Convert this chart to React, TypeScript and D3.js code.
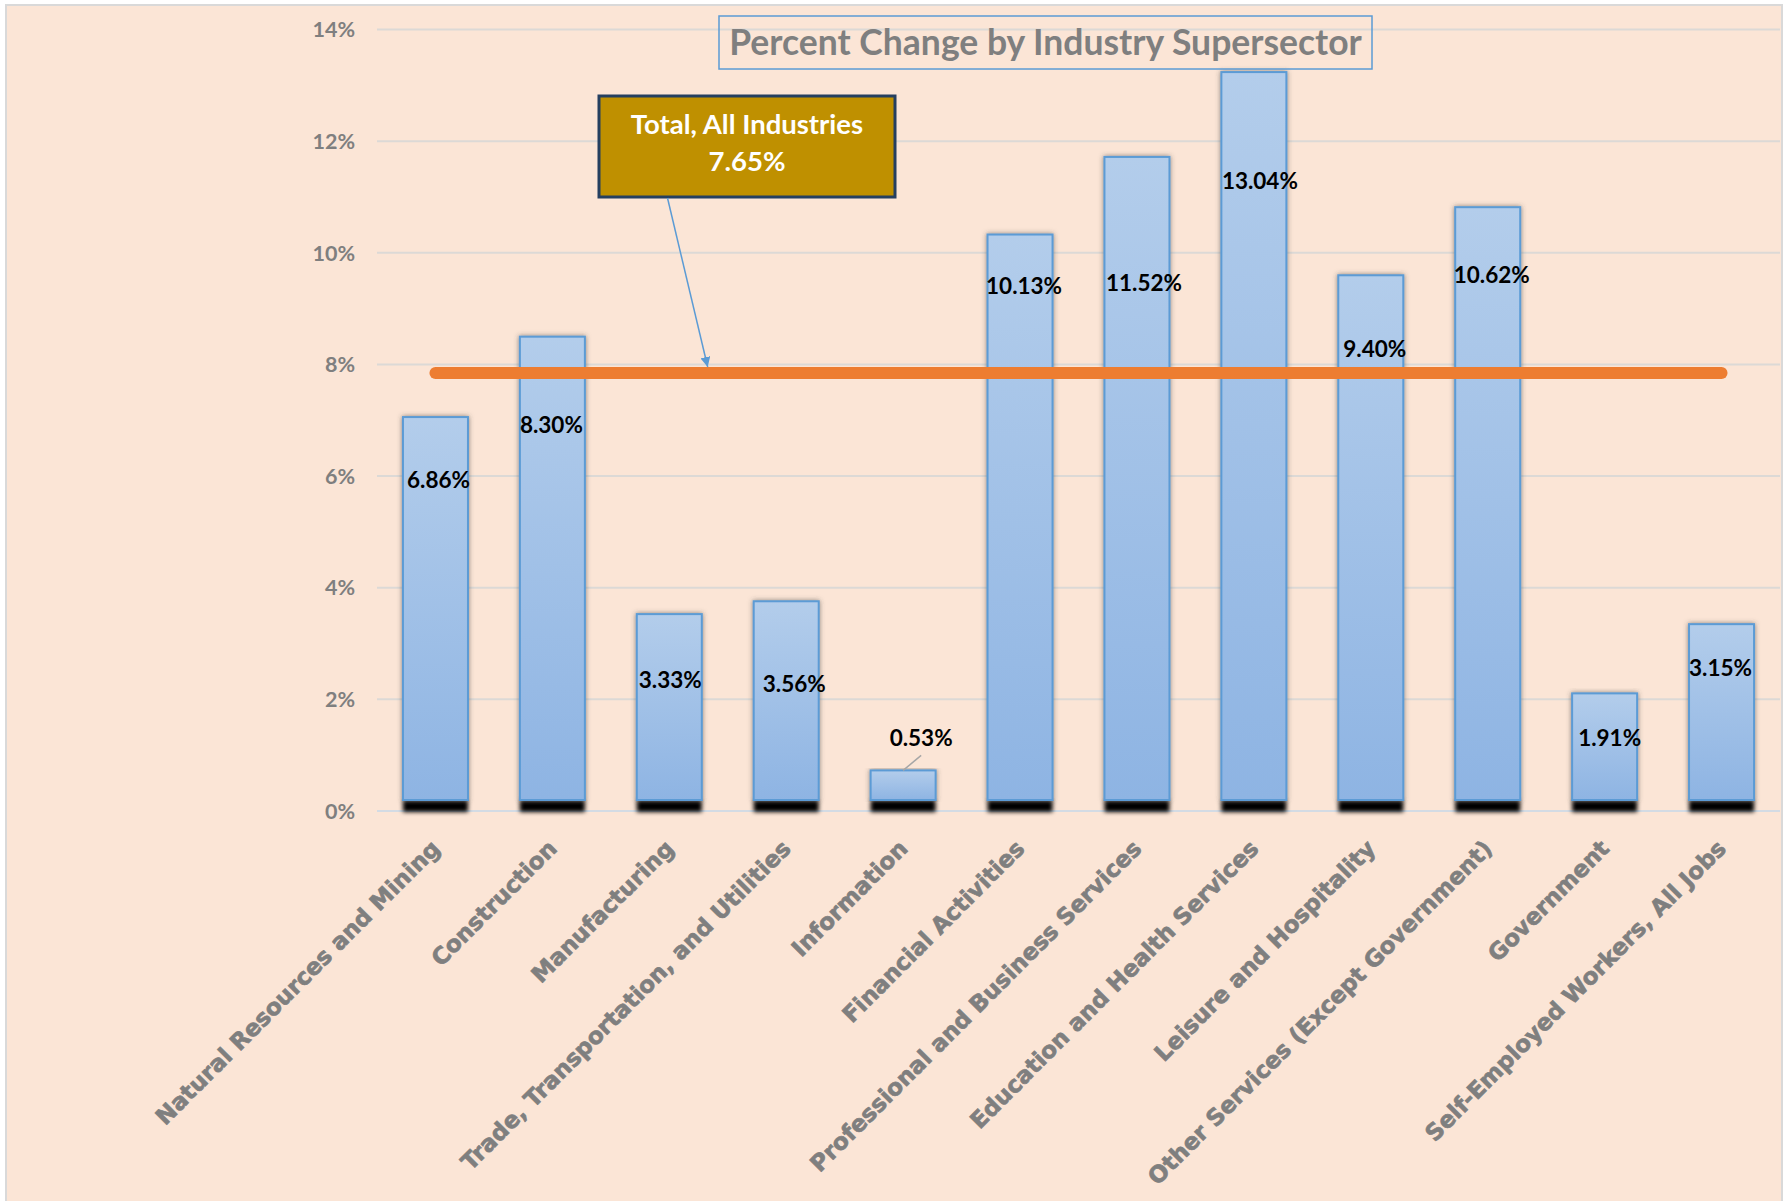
import React from 'react'
import * as d3 from 'd3'

// industry supersectors, left to right
const categories = [
  'Natural Resources and Mining',
  'Construction',
  'Manufacturing',
  'Trade, Transportation, and Utilities',
  'Information',
  'Financial Activities',
  'Professional and Business Services',
  'Education and Health Services',
  'Leisure and Hospitality',
  'Other Services (Except Government)',
  'Government',
  'Self-Employed Workers, All Jobs',
]
const pctChange = [6.86, 8.30, 3.33, 3.56, 0.53, 10.13, 11.52, 13.04, 9.40, 10.62, 1.91, 3.15]
const totalAllIndustries = 7.65
const yTicks = [0, 2, 4, 6, 8, 10, 12, 14]
const chartTitle = 'Percent Change by Industry Supersector'
const calloutLines = ['Total, All Industries', '7.65%']

// hand-placed label nudges (px) relative to bar top, like the original
const labelNudge: [number, number][] = [
  [3, 63], [-1, 88], [1, 66], [8, 83], [18, -33], [4, 51],
  [7, 126], [6, 109], [4, 74], [4, 68], [5, 45], [-1, 44],
]

const W = 1784
const H = 1201
const depth = 11 // 3d floor offset of the excel bars

const gray = '#7f7f7f'
const blue = '#5b9bd5'
const fontNum = 'Lato, "Open Sans", sans-serif'

export default function App() {
  const x = d3.scaleBand<string>()
    .domain(categories)
    .range([377, 1780])
    .paddingInner(0.444)
    .paddingOuter(0.222)
  const y = d3.scaleLinear().domain([0, 14]).range([811, 29.5])
  const bw = x.bandwidth()
  const cx = (c: string) => (x(c) ?? 0) + bw / 2

  const line = d3.line<string>()
    .x(c => cx(c))
    .y(() => y(totalAllIndustries) - depth)

  const ticks = y.ticks(7).filter(t => yTicks.includes(t))

  const infoIdx = 4
  const infoX = cx(categories[infoIdx])
  const infoTop = y(pctChange[infoIdx]) - depth

  return (
    <svg width={W} height={H} style={{ display: 'block', position: 'absolute', left: 0, top: 0 }}>
      <style>{'body{margin:0}'}</style>
      <defs>
        <linearGradient id="barFill" x1="0" y1="0" x2="0" y2="1">
          <stop offset="0%" stopColor="#b3cdeb" />
          <stop offset="100%" stopColor="#8eb4e3" />
        </linearGradient>
        <filter id="sideShadow" x="-20%" y="-5%" width="140%" height="110%">
          <feDropShadow dx="0" dy="0" stdDeviation="2.5" floodColor="#404040" floodOpacity="0.6" />
        </filter>
        <filter id="floorBlur" x="-20%" y="-60%" width="140%" height="220%">
          <feGaussianBlur stdDeviation="2.2" />
        </filter>
        <marker id="arrowHead" viewBox="0 0 10 10" refX="10" refY="5" markerWidth="10" markerHeight="10" markerUnits="userSpaceOnUse" orient="auto">
          <path d="M0,0 L10,5 L0,10 z" fill={blue} />
        </marker>
      </defs>

      <rect x={0} y={0} width={W} height={H} fill="#ffffff" />
      <rect x={6} y={5} width={1776} height={1200} fill="#fbe5d6" stroke="#d9d9d9" strokeWidth={2} />

      {/* gridlines */}
      {ticks.map(t => (
        <line key={'g' + t} x1={377} x2={1780} y1={y(t)} y2={y(t)}
          stroke={t === 0 ? '#d3dbe4' : '#dcd9d6'} strokeWidth={2} />
      ))}

      {/* y labels */}
      {ticks.map(t => (
        <text key={'yl' + t} x={355} y={y(t)} dy="0.36em" textAnchor="end"
          fontFamily={fontNum} fontWeight={700} fontSize={21.5} fill={gray}>
          {t + '%'}
        </text>
      ))}

      {/* floor shadows */}
      {categories.map(c => (
        <rect key={'f' + c} x={(x(c) ?? 0)} y={y(0) - depth} width={bw} height={depth + 1}
          fill="#000" filter="url(#floorBlur)" />
      ))}

      {/* bars */}
      {categories.map((c, i) => (
        <rect key={'b' + c} x={x(c)} y={y(pctChange[i]) - depth} width={bw}
          height={y(0) - y(pctChange[i])} fill="url(#barFill)" stroke={blue} strokeWidth={2}
          filter="url(#sideShadow)" />
      ))}

      {/* total, all industries */}
      <path d={line(categories) ?? ''} fill="none" stroke="#ed7d31" strokeWidth={12} strokeLinecap="round" />

      {/* data labels */}
      {categories.map((c, i) => (
        <text key={'dl' + c} x={cx(c) + labelNudge[i][0]} y={y(pctChange[i]) - depth + labelNudge[i][1]}
          dy="0.36em" textAnchor="middle" fontFamily={fontNum} fontWeight={700} fontSize={22.5} fill="#000">
          {pctChange[i].toFixed(2) + '%'}
        </text>
      ))}
      <line x1={infoX + labelNudge[infoIdx][0]} y1={infoTop + labelNudge[infoIdx][1] + 18}
        x2={infoX} y2={infoTop} stroke="#a6a6a6" strokeWidth={1.5} />

      {/* category labels */}
      {categories.map(c => (
        <text key={'xl' + c} transform={`translate(${cx(c) + 6},${y(0) + 39}) rotate(-45)`}
          textAnchor="end" fontFamily='"DejaVu Sans", sans-serif' fontWeight={700} fontSize={23}
          fill={gray} stroke={gray} strokeWidth={0.7}>
          {c}
        </text>
      ))}

      {/* title */}
      <rect x={719} y={16} width={653} height={53} fill="none" stroke={blue} strokeWidth={1.5} />
      <text x={1045.5} y={55} textAnchor="middle" fontFamily={fontNum} fontWeight={700} fontSize={35.5} fill={gray}>
        {chartTitle}
      </text>

      {/* callout */}
      <rect x={599} y={96} width={296} height={101} fill="#bf9000" stroke="#243f60" strokeWidth={3} />
      {calloutLines.map((t, i) => (
        <text key={'co' + i} x={747} y={134 + i * 37} textAnchor="middle" fontFamily={fontNum}
          fontWeight={700} fontSize={27.5} fill="#ffffff">
          {t}
        </text>
      ))}
      <line x1={667.5} y1={198} x2={707.7} y2={367} stroke={blue} strokeWidth={1.5} markerEnd="url(#arrowHead)" />
    </svg>
  )
}
